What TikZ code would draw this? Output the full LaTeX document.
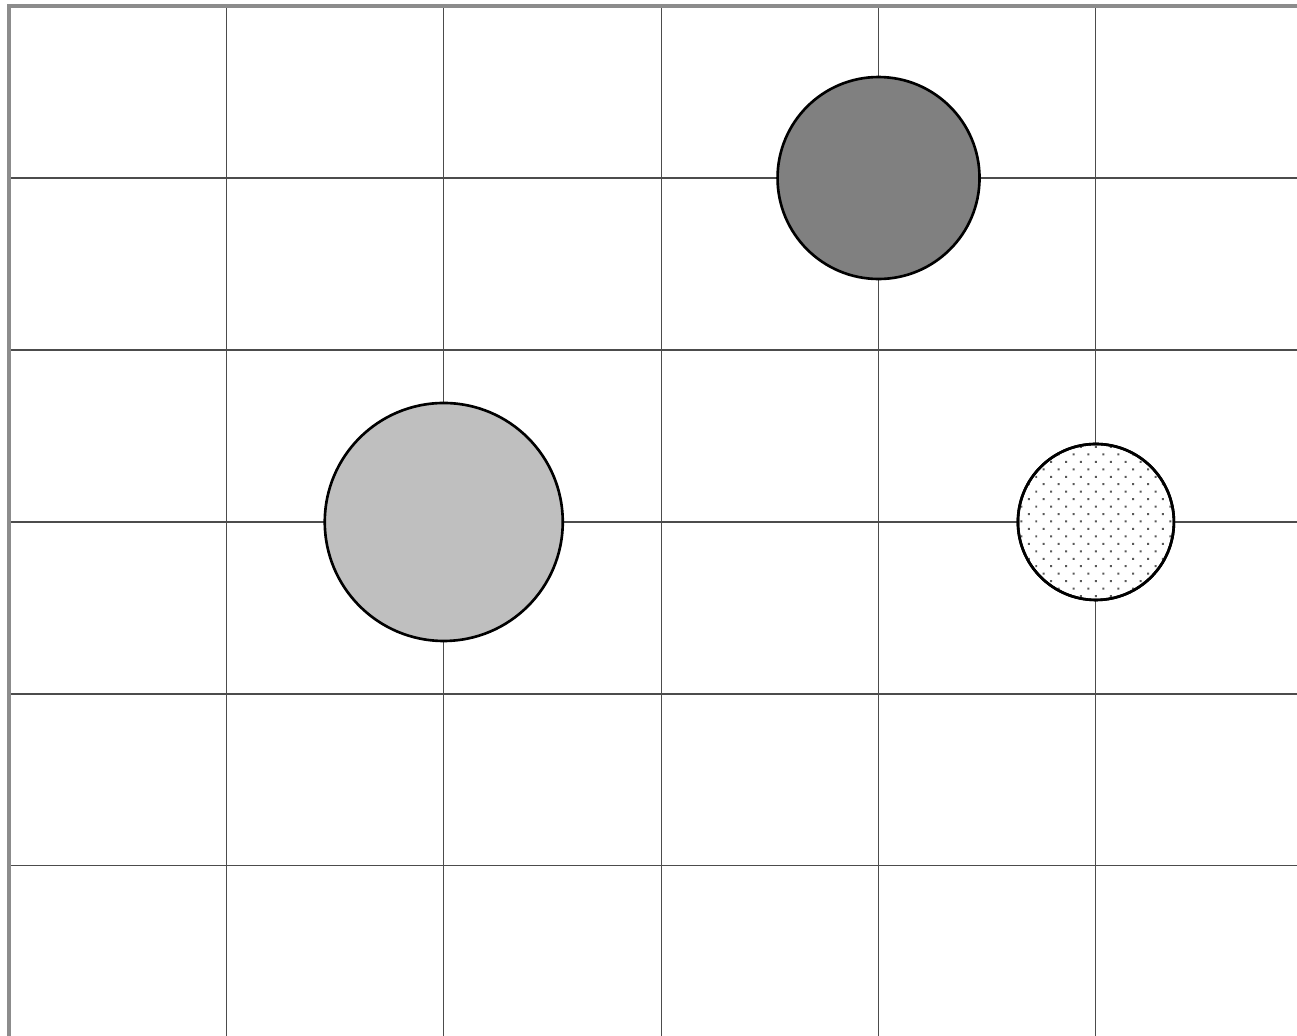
\documentclass[tikz,border=0pt]{standalone}
\usepackage{tikz}
\usetikzlibrary{patterns.meta}

\begin{document}
\begin{tikzpicture}[
  x=2.174cm, y=1.72cm,
  gridline/.style={draw=black!70, line width=0.3pt},
  frame/.style={draw=black!45, line width=0.9pt},
  ball/.style={circle, draw, line width=0.75pt, inner sep=0pt},
  dotfill/.style={pattern={Dots[distance=3pt, angle=45, radius=0.4pt]}, pattern color=black!65}
]
  \useasboundingbox (-0.0414,0.012) rectangle (5.925,6.035);
  \clip (-0.0414,0.012) rectangle (5.925,6.035);
  % grid
  \foreach \i in {1,...,5} {
    \draw[gridline] (\i,0) -- (\i,6);
    \draw[gridline] (0,\i) -- (6,\i);
  }
  \draw[frame] (0,0) rectangle (6,6);
  % balls
  \node[ball, minimum size=2.02cm, fill=black!50] (dark) at (4,5) {};
  \node[ball, minimum size=2.38cm, fill=black!25] (light) at (2,3) {};
  \node[ball, minimum size=1.56cm, fill=white] (dotted) at (5,3) {};
  \node[ball, minimum size=1.56cm, dotfill] at (dotted) {};
\end{tikzpicture}
\end{document}
